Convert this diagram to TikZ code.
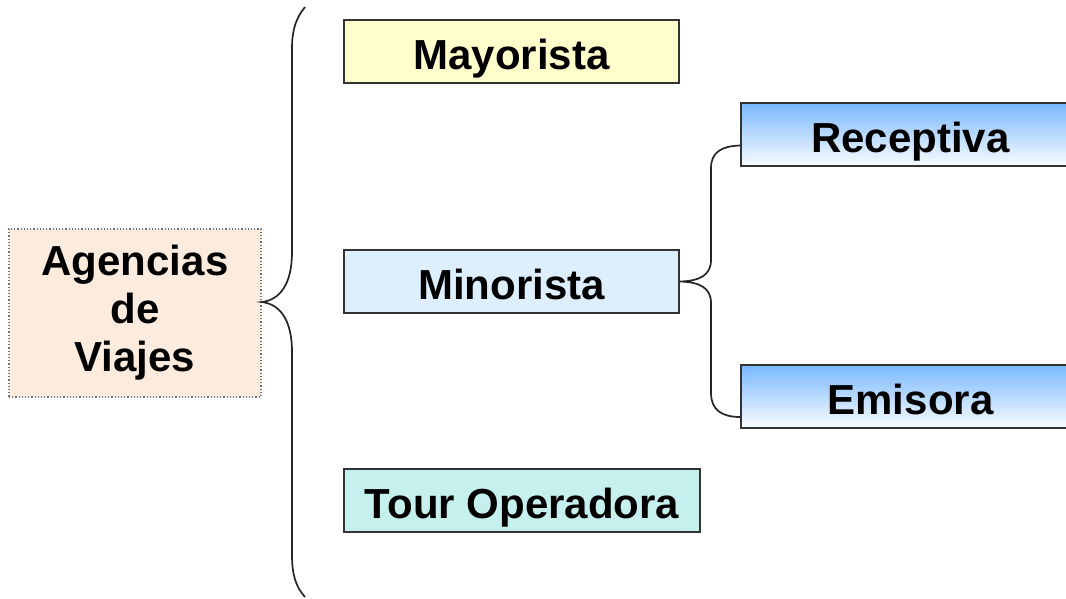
\documentclass[tikz,border=0pt]{standalone}
\usepackage{fontspec}
\setmainfont{Liberation Sans}
\definecolor{cYel}{HTML}{FFFFCC}
\definecolor{cMin}{HTML}{DDEEFF}
\definecolor{cTour}{HTML}{C6F0EE}
\definecolor{cAg}{HTML}{FDEBDD}
\definecolor{cGradTop}{HTML}{78B8FF}
\definecolor{cGradBot}{HTML}{FAFCFF}
\definecolor{cEdge}{HTML}{333333}
\tikzset{
  txt/.style={font=\fontsize{42}{48}\selectfont\bfseries, inner sep=0pt},
  boxnode/.style={txt, text height=35pt, text depth=0pt, draw=cEdge, line width=1.5pt, rectangle, minimum height=63pt},
  gradbox/.style={boxnode, top color=cGradTop, bottom color=cGradBot},
  brace/.style={draw=black!85, line width=1.7pt},
}
\begin{document}
\begin{tikzpicture}[x=1pt,y=1pt]
\useasboundingbox (0,0) rectangle (1066,-598);
\node[txt, draw=black!55, dotted, line width=1.2pt, fill=cAg, minimum width=252pt, minimum height=168pt, align=center] (ag) at (135,-313) {Agencias\\de\\Viajes};
\node[boxnode, fill=cYel, minimum width=335pt] (may) at (511.5,-51.5) {Mayorista};
\node[boxnode, fill=cMin, minimum width=335pt] (min) at (511.5,-281.5) {Minorista};
\node[boxnode, fill=cTour, minimum width=356pt] (tour) at (522,-500.5) {Tour Operadora};
\node[gradbox, minimum width=339pt] (rec) at (910.5,-134.5) {Receptiva};
\node[gradbox, minimum width=339pt] (emi) at (910.5,-396.5) {Emisora};
\coordinate (btop) at (305,-7);
\coordinate (bbot) at (305,-597);
\coordinate (cusp) at ([yshift=11pt]ag.east);
\draw[brace] (btop) .. controls (296,-18) and (292,-30) .. (292,-48) -- (292,-252)
  .. controls (292,-284) and (280,-300) .. (cusp)
  .. controls (280,-304) and (292,-320) .. (292,-352) -- (292,-555)
  .. controls (292,-575) and (296,-587) .. (bbot);
\draw[brace] ([yshift=-11pt]rec.west) .. controls (722,-146) and (711,-152) .. (711,-168) -- (711,-260)
  .. controls (711,-275) and (700,-281) .. (min.east)
  .. controls (700,-282) and (711,-288) .. (711,-303) -- (711,-393)
  .. controls (711,-410) and (722,-417) .. ([yshift=-20.5pt]emi.west);
\end{tikzpicture}
\end{document}
